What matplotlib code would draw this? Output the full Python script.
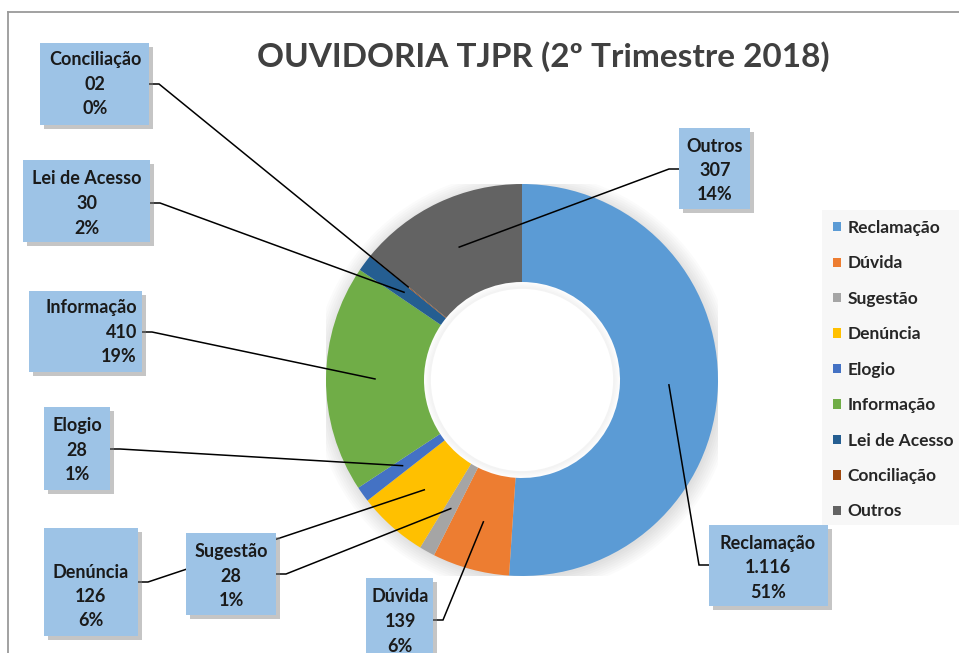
import matplotlib
matplotlib.use("Agg")
import matplotlib.pyplot as plt
import numpy as np
from matplotlib.patches import Rectangle, Circle

plt.rcParams["font.family"] = ["Lato", "DejaVu Sans"]

# ── Data ──────────────────────────────────────────────────────────────────────
categories = ["Reclamação", "Dúvida", "Sugestão", "Denúncia", "Elogio",
              "Informação", "Lei de Acesso", "Conciliação", "Outros"]
values = [1116, 139, 28, 126, 28, 410, 30, 2, 307]
value_labels = ["1.116", "139", "28", "126", "28", "410", "30", "02", "307"]
pct_labels = ["51%", "6%", "1%", "6%", "1%", "19%", "2%", "0%", "14%"]
colors = ["#5B9BD5", "#ED7D31", "#A5A5A5", "#FFC000", "#4472C4",
          "#70AD47", "#255E91", "#9E480E", "#636363"]
title = "OUVIDORIA TJPR (2º Trimestre 2018)"

# ── Layout (pixels, origin top-left) ──────────────────────────────────────────
W, H = 959, 653
CX, CY, R = 522, 380, 196
# left, top, right, bottom, text x, first line y, align, exit side, exit y
boxes = {
    "Conciliação":   (40, 43, 149, 125, 95, 60, "center", "r", 84),
    "Lei de Acesso": (23, 160, 150, 242, 87, 179, "center", "r", 203),
    "Informação":    (29, 291, 142, 372, 137, 308, "right", "r", 332),
    "Elogio":        (44, 407, 110, 490, 77, 426, "center", "r", 449),
    "Denúncia":      (44, 528, 138, 636, 91, 572, "center", "r", 582),
    "Sugestão":      (186, 533, 276, 615, 231, 552, "center", "r", 574),
    "Dúvida":        (366, 578, 433, 672, 400, 597, "center", "r", 620),
    "Reclamação":    (709, 525, 828, 606, 768, 543, "center", "l", 565),
    "Outros":        (679, 128, 750, 209, 715, 146, "center", "l", 169),
}
LINE_STEP = 24.5
ELBOW = 10

fig = plt.figure(figsize=(W / 100, H / 100), dpi=100)
fig.patch.set_facecolor("white")

# donut
pie_ax = fig.add_axes([(CX - R) / W, (H - CY - R) / H, 2 * R / W, 2 * R / H])
pie_ax.axis("off")

# soft shadow around the ring (hole kept white)
for k in range(8):
    pie_ax.add_patch(Circle((0.008, -0.012), 1.0 + 0.011 * k, color="#000000",
                            alpha=0.016, lw=0, zorder=0))
pie_ax.add_patch(Circle((0, 0), 0.505, color="white", lw=0, zorder=0.5))
for k in range(4):
    pie_ax.add_patch(Circle((0, 0), 0.5 - 0.008 * k, color="#000000",
                            alpha=0.012, lw=0, zorder=0.6))
pie_ax.add_patch(Circle((0, 0), 0.465, color="white", lw=0, zorder=0.7))

wedges, _ = pie_ax.pie(values, colors=colors, startangle=90, counterclock=False,
                       radius=1.0, wedgeprops=dict(width=0.5, linewidth=0))
pie_ax.set_xlim(-1, 1)
pie_ax.set_ylim(-1, 1)
pie_ax.set_aspect("equal")

# overlay in pixel coordinates
ov = fig.add_axes([0, 0, 1, 1])
ov.set_xlim(0, W)
ov.set_ylim(H, 0)
ov.axis("off")
ov.patch.set_visible(False)

# frame lines
ov.plot([8, W], [12, 12], color="#9A9A9A", lw=1.3, zorder=1)
ov.plot([8, 8], [12, H], color="#9A9A9A", lw=1.3, zorder=1)

ov.text(543, 57, title, ha="center", va="center", fontsize=24,
        fontweight="bold", color="#404040")

to_ov = ov.transData.inverted()
for name, val_lbl, pct, w in zip(categories, value_labels, pct_labels, wedges):
    mid = np.deg2rad((w.theta1 + w.theta2) / 2)
    disp = pie_ax.transData.transform((0.75 * np.cos(mid), 0.75 * np.sin(mid)))
    ax_pt = to_ov.transform(disp)
    l, t, r, b, tx, ty, ha, side, ey = boxes[name]
    ex = r if side == "r" else l
    elbow_x = ex + ELBOW if side == "r" else ex - ELBOW
    ov.plot([ex, elbow_x, ax_pt[0]], [ey, ey, ax_pt[1]], color="black",
            lw=1.1, zorder=2, solid_joinstyle="miter")
    ov.add_patch(Rectangle((l + 4, t + 4), r - l, b - t, facecolor="#7F7F7F",
                           alpha=0.45, lw=0, zorder=3))
    ov.add_patch(Rectangle((l, t), r - l, b - t, facecolor="#9DC3E6",
                           lw=0, zorder=3.5))
    for i, line in enumerate([name, val_lbl, pct]):
        ov.text(tx, ty + i * LINE_STEP, line, ha=ha, va="center", fontsize=13,
                fontweight="bold", color="#1A1A1A", zorder=4)

# legend
ov.add_patch(Rectangle((822, 210), W - 822, 315, facecolor="#F7F7F7",
                       lw=0, zorder=1))
leg = fig.legend(wedges, categories, loc="upper left",
                 bbox_to_anchor=(826 / W, 1 - 213 / H), frameon=False,
                 fontsize=12.5, handlelength=0.45, handleheight=0.45,
                 handletextpad=0.4, labelspacing=1.12, borderaxespad=0)
for txt in leg.get_texts():
    txt.set_fontweight("bold")
    txt.set_color("#262626")

fig.savefig("out.png", dpi=100)
